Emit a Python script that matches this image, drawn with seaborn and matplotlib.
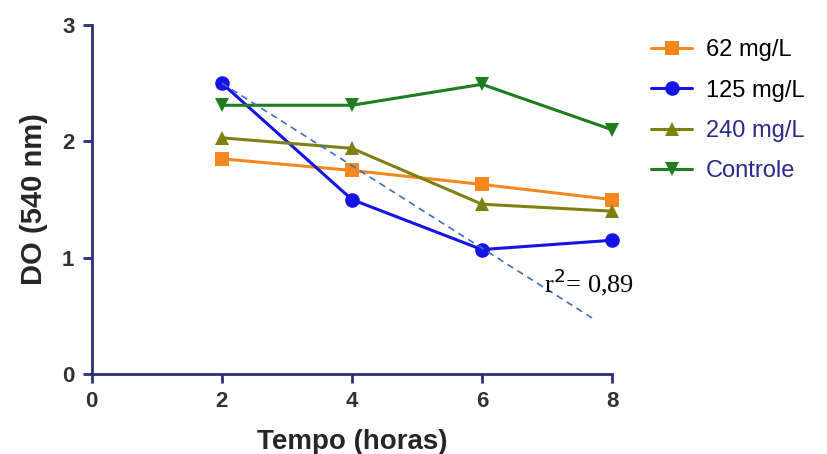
import pandas as pd
import seaborn as sns
import matplotlib.pyplot as plt

# Values
tempo = [2, 4, 6, 8]
do_62 = [1.85, 1.75, 1.63, 1.50]
do_125 = [2.50, 1.50, 1.07, 1.15]
do_240 = [2.03, 1.94, 1.46, 1.40]
do_controle = [2.31, 2.31, 2.49, 2.10]
groups = ["62 mg/L", "125 mg/L", "240 mg/L", "Controle"]

# regression line drawn over the 125 mg/L series
trend_x = [2.0, 7.7]
trend_y = [2.50, 0.48]
r2_label = "0,89"

df = pd.DataFrame({
    "tempo": tempo * 4,
    "do": do_62 + do_125 + do_240 + do_controle,
    "grupo": [g for g in groups for _ in tempo],
})

palette = {"62 mg/L": "#f7881f", "125 mg/L": "#1414e6",
           "240 mg/L": "#808010", "Controle": "#1e7d1e"}
markers = {"62 mg/L": "s", "125 mg/L": "o", "240 mg/L": "^", "Controle": "v"}

sns.set_style("white")
plt.rcParams['font.family'] = ['Liberation Sans', 'DejaVu Sans']

fig = plt.figure(figsize=(8.27, 4.54), dpi=100)
ax = fig.add_axes([0.111, 0.176, 0.629, 0.769])

sns.lineplot(data=df, x="tempo", y="do", hue="grupo", style="grupo",
             palette=palette, markers=markers, dashes=False,
             linewidth=2.2, markersize=10.5, markeredgewidth=0, ax=ax)
for ln in ax.lines:
    ln.set_clip_on(False)

# trend line
ax.plot(trend_x, trend_y, ls=(0, (4, 3)), color="#3a6fc4", lw=1.2)
ax.text(6.95, 0.79, "r$^2$= " + r2_label, fontsize=19, va="center",
        family=["Liberation Serif"], color="black")

ax.set_xlim(0, 8)
ax.set_ylim(0, 3)
ax.set_xticks([0, 2, 4, 6, 8])
ax.set_yticks([0, 1, 2, 3])
navy = "#2b2f7a"
for side in ["top", "right"]:
    ax.spines[side].set_visible(False)
for side in ["left", "bottom"]:
    ax.spines[side].set_color(navy)
    ax.spines[side].set_linewidth(2)
ax.tick_params(axis="both", bottom=True, left=True, direction="out",
               length=6.5, width=2, color=navy,
               labelsize=16, labelcolor="#333333", pad=6)
for lbl in ax.get_xticklabels() + ax.get_yticklabels():
    lbl.set_fontweight("bold")
ax.set_xlabel("Tempo (horas)", fontsize=20, fontweight="bold", labelpad=12)
ax.set_ylabel("DO (540 nm)", fontsize=21, fontweight="bold", labelpad=10)

handles, labels = ax.get_legend_handles_labels()
leg = ax.legend(handles, labels, loc="upper left", bbox_to_anchor=(1.035, 1.02),
                frameon=False, fontsize=17, handlelength=1.7,
                handletextpad=0.6, labelspacing=0.78)
for txt, c in zip(leg.get_texts(), ["black", "black", "#2a2a8a", "#2a2a8a"]):
    txt.set_color(c)

plt.savefig("out.png", dpi=100)
plt.close()
